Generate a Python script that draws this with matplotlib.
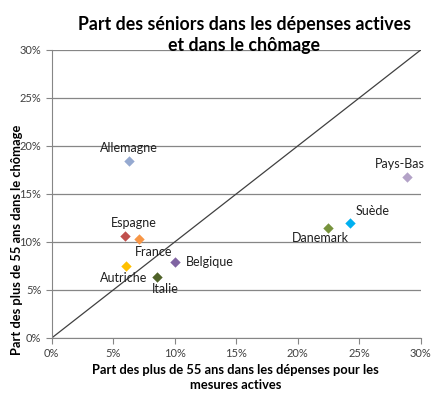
import matplotlib
matplotlib.use("Agg")
import matplotlib.pyplot as plt
from matplotlib.ticker import FuncFormatter, MultipleLocator

countries = ["Allemagne", "Pays-Bas", "Suède", "Danemark", "Espagne",
             "France", "Belgique", "Autriche", "Italie"]
x_vals = [6.26, 28.87, 24.26, 22.44, 5.96, 7.12, 10.0, 6.07, 8.54]
y_vals = [18.4, 16.8, 12.0, 11.5, 10.65, 10.3, 7.95, 7.47, 6.35]
colors = ["#95a9d0", "#b3a2c7", "#00b0f0", "#77933c", "#c0504d",
          "#f79646", "#8064a2", "#ffc000", "#4f6228"]
# label offsets in points (dx, dy) and alignment
offsets = {
    "Allemagne": (0, 5, "center", "bottom"),
    "Pays-Bas": (-5, 5, "center", "bottom"),
    "Suède": (16, 4, "center", "bottom"),
    "Danemark": (-5, -3, "center", "top"),
    "Espagne": (6, 5, "center", "bottom"),
    "France": (10, -5, "center", "top"),
    "Belgique": (8, 0, "left", "center"),
    "Autriche": (-2, -4, "center", "top"),
    "Italie": (6, -4, "center", "top"),
}

plt.rcParams['font.family'] = ['Lato', 'DejaVu Sans']
fig = plt.figure(figsize=(4.4, 3.99), dpi=100)
ax = fig.add_axes([0.1175, 0.1529, 0.8386, 0.7218])

ax.set_xlim(0, 30)
ax.set_ylim(0, 30)
ax.xaxis.set_major_locator(MultipleLocator(5))
ax.yaxis.set_major_locator(MultipleLocator(5))
fmt = FuncFormatter(lambda v, p: f"{int(round(v))}%")
ax.xaxis.set_major_formatter(fmt)
ax.yaxis.set_major_formatter(fmt)
ax.grid(axis='y', color='#868686', linewidth=0.9)
ax.set_axisbelow(True)
for s in ['top', 'right']:
    ax.spines[s].set_visible(False)
for s in ['left', 'bottom']:
    ax.spines[s].set_color('#868686')
ax.tick_params(axis='both', colors='#868686', labelcolor='#404040',
               labelsize=8, length=4, direction='out')

ax.plot([0, 30], [0, 30], color='#404040', linewidth=0.9, zorder=2)

for c, xv, yv, col in zip(countries, x_vals, y_vals, colors):
    ax.scatter([xv], [yv], marker='D', s=28, color=col, zorder=3, linewidths=0)
    dx, dy, ha, va = offsets[c]
    ax.annotate(c, (xv, yv), xytext=(dx, dy), textcoords='offset points',
                ha=ha, va=va, fontsize=9, color='#202020')

fig.text(0.555, 0.96, "Part des séniors dans les dépenses actives\net dans le chômage",
         ha='center', va='top', fontsize=12.8, fontweight='bold', linespacing=1.3)
fig.text(0.535, 0.088, "Part des plus de 55 ans dans les dépenses pour les\nmesures actives",
         ha='center', va='top', fontsize=9.3, fontweight='bold', linespacing=1.3)
fig.text(0.038, 0.40, "Part des plus de 55 ans dans le chômage", rotation=90,
         ha='center', va='center', fontsize=9.3, fontweight='bold')

fig.savefig("out.png", dpi=100)
